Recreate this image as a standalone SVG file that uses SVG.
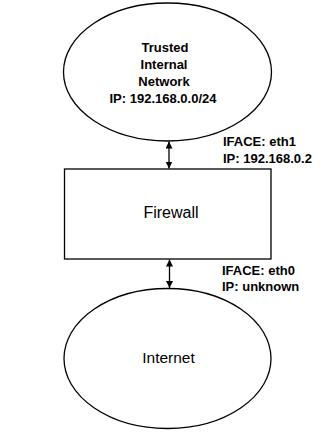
<svg xmlns="http://www.w3.org/2000/svg" width="336" height="432" viewBox="0 0 336 432">
<defs>
<marker id="ah" viewBox="0 0 10 10" refX="10" refY="5" markerWidth="7" markerHeight="7" orient="auto-start-reverse" markerUnits="userSpaceOnUse">
<path d="M0,0 L10,5 L0,10 Z" fill="#000"/>
</marker>
</defs>
<style>
.shape{fill:#fff;stroke:#000;stroke-width:1.3}
.lbl{font-family:"Liberation Sans",Arial,sans-serif;font-size:13px;font-weight:bold;fill:#000}
.big{font-family:"Liberation Sans",Arial,sans-serif;font-size:16px;fill:#000}
.conn{stroke:#000;stroke-width:1.3;fill:none;marker-start:url(#ah);marker-end:url(#ah)}
</style>
<rect width="336" height="432" fill="#fff"/>
<g id="trusted">
<ellipse class="shape" cx="167.5" cy="72" rx="104" ry="69"/>
<text class="lbl" text-anchor="middle" x="165" y="52">Trusted</text>
<text class="lbl" text-anchor="middle" x="164" y="69">Internal</text>
<text class="lbl" text-anchor="middle" x="164" y="86">Network</text>
<text class="lbl" text-anchor="middle" x="163" y="103">IP: 192.168.0.0/24</text>
</g>
<g id="firewall">
<rect class="shape" x="64.5" y="169" width="206.5" height="90"/>
<text class="big" text-anchor="middle" x="171" y="218">Firewall</text>
</g>
<g id="internet">
<ellipse class="shape" cx="167.5" cy="358.5" rx="103.5" ry="70"/>
<text class="big" text-anchor="middle" x="168.5" y="363" style="font-size:15.5px">Internet</text>
</g>
<g id="connectors">
<line class="conn" x1="169" y1="141.5" x2="169" y2="168.5"/>
<line class="conn" x1="169.5" y1="259.5" x2="169.5" y2="288"/>
</g>
<g id="labels">
<text class="lbl" x="223" y="146">IFACE: eth1</text>
<text class="lbl" x="223" y="163">IP: 192.168.0.2</text>
<text class="lbl" x="222" y="275">IFACE: eth0</text>
<text class="lbl" x="222" y="291">IP: unknown</text>
</g>
</svg>
